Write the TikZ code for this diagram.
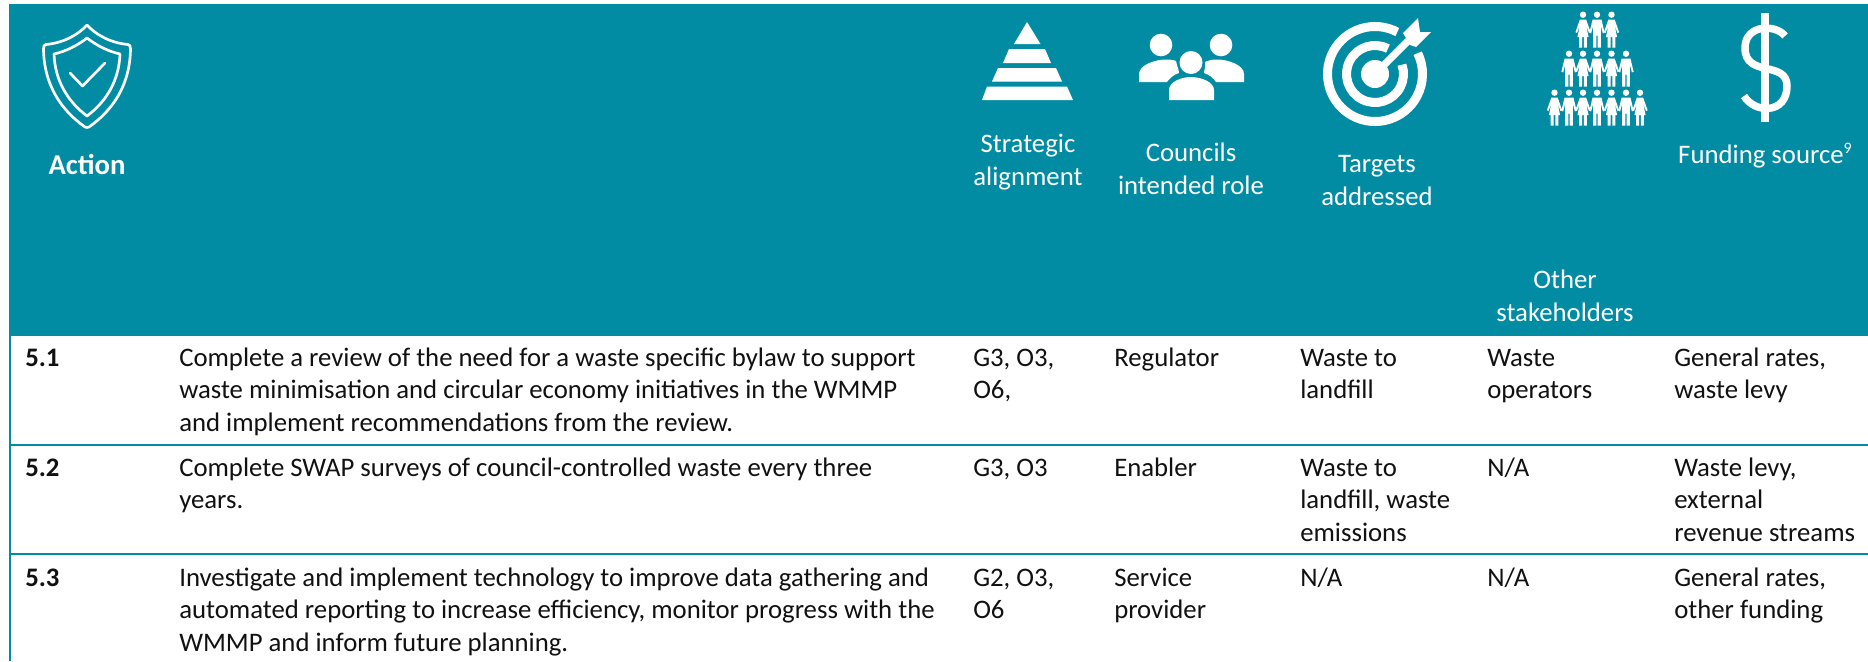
\documentclass[tikz,border=0pt]{standalone}
\usepackage{fontspec}
\setmainfont{Carlito}
\definecolor{teal1}{HTML}{028CA3}
\definecolor{ink}{HTML}{111111}
\newcommand{\bodyfs}{\fontsize{20.06}{24.4}\selectfont}
\newcommand{\headfs}{\fontsize{20.06}{24.8}\selectfont}
\newcommand{\stkl}[1]{\begin{tabular}[t]{@{}l@{}}#1\end{tabular}}
\newcommand{\stkc}[1]{\begin{tabular}[t]{@{}c@{}}#1\end{tabular}}
\tikzset{
 x=0.75pt,y=-0.75pt,
 cell/.style={anchor=base west,inner sep=0pt,text=ink,font=\bodyfs},
 idcell/.style={cell,font=\bodyfs\bfseries},
 headtxt/.style={anchor=base,inner sep=0pt,text=white,font=\headfs},
 rulepen/.style={draw=teal1,line width=1.7pt},
 ico/.style={draw=white,line width=2pt,line join=round,line cap=round},
 ringpen/.style={draw=white,line width=6.75pt},
 person/.pic={
   \fill[white] (0,0) circle (3.2);
   \fill[white] (-4.5,5) -- (4.5,5) -- (7.6,18) -- (5.9,18.8) -- (3.8,11) -- (3.8,33) -- (0.7,33) -- (0.7,21) -- (-0.7,21) -- (-0.7,33) -- (-3.8,33) -- (-3.8,11) -- (-5.9,18.8) -- (-7.6,18) -- cycle;
 },
 woman/.pic={
   \fill[white] (0,0) circle (3.2);
   \fill[white] (-3.2,5) -- (3.2,5) -- (7.6,17.5) -- (6,18.3) -- (3.2,11) -- (5.6,22.5) -- (3.8,22.5) -- (3.8,33) -- (0.9,33) -- (0.9,22.5) -- (-0.9,22.5) -- (-0.9,33) -- (-3.8,33) -- (-3.8,22.5) -- (-5.6,22.5) -- (-3.2,11) -- (-6,18.3) -- (-7.6,17.5) -- cycle;
 }
}
\begin{document}
\begin{tikzpicture}
\useasboundingbox (0,0) rectangle (1868,661);
\fill[white] (0,0) rectangle (1868,661);
\fill[teal1] (9,4) rectangle (1868,336);
\draw[rulepen] (10,336) -- (10,661);
\draw[rulepen] (10,445) -- (1868,445);
\draw[rulepen] (10,554) -- (1868,554);
% shield
\begin{scope}[shift={(87,25)}]
\draw[ico] (0,0) .. controls (-9,10) and (-24,18) .. (-41,19.5) .. controls (-43,20) and (-43.5,21) .. (-43.5,24) .. controls (-43,60) and (-26,85) .. (-2,102) .. controls (-1,102.6) and (1,102.6) .. (2,102) .. controls (26,85) and (43,60) .. (43.5,24) .. controls (43.5,21) and (43,20) .. (41,19.5) .. controls (24,18) and (9,10) .. (0,0) -- cycle;
\draw[ico] (0,13) .. controls (-9,20) and (-20,26) .. (-33,29) .. controls (-32,55) and (-20,76) .. (0,91) .. controls (20,76) and (32,55) .. (33,29) .. controls (20,26) and (9,20) .. (0,13) -- cycle;
\draw[ico] (-17,48) -- (-4.5,61) -- (18,38);
\end{scope}
% pyramid
\fill[white] (1027,22) -- (1040.5,44) -- (1014,44) -- cycle;
\fill[white] (1009,49) -- (1045,49) -- (1051,63) -- (1003,63) -- cycle;
\fill[white] (998,68) -- (1056,68) -- (1062,81.5) -- (992,81.5) -- cycle;
\fill[white] (987,86.5) -- (1067,86.5) -- (1073,100) -- (982,100) -- cycle;
% councils
\fill[white] (1161,45) circle (11.3);
\fill[white] (1221,45) circle (11.3);
\fill[white] (1139,82) -- (1139,74) .. controls (1139,65) and (1155,59.5) .. (1166,59.5) .. controls (1170,59.5) and (1174,60) .. (1176,61) .. controls (1177,66) and (1179,70) .. (1179,73) .. controls (1173,75) and (1170,78) .. (1167,82) -- cycle;
\fill[white] (1244,82) -- (1244,74) .. controls (1244,65) and (1228,59.5) .. (1217,59.5) .. controls (1213,59.5) and (1209,60) .. (1205,62) .. controls (1206,66) and (1204,70) .. (1204,73) .. controls (1210,75) and (1213,78) .. (1216,82) -- cycle;
\fill[white] (1191,62.5) circle (11.5);
\fill[white] (1169,100) -- (1169,90) .. controls (1169,82) and (1181,77) .. (1191,77) .. controls (1201,77) and (1214,82) .. (1214,90) -- (1214,100) -- cycle;
% target
\draw[ringpen] (1375,74) ++(-62:47.5) arc[start angle=-62,end angle=-386,radius=47.5];
\draw[ringpen] (1375,74) ++(-63:28.5) arc[start angle=-63,end angle=-379,radius=28.5];
\fill[white] (1375,74) circle (14);
\draw[white,line width=5.4pt] (1375,74) -- (1410,39);
\fill[white] (1418,18) -- (1420,32) -- (1431,32) -- (1416,47) -- (1410,45) -- (1403,33) -- cycle;
% people
\foreach \px/\kind in {1583/woman,1597/person,1611.5/woman} {\pic at (\px,14.7) {\kind};}
\foreach \px/\kind in {1569/person,1583/woman,1597/person,1611.5/woman,1626/person} {\pic at (\px,53.7) {\kind};}
\foreach \px/\kind in {1554.5/woman,1569/person,1583/woman,1597/person,1611.5/woman,1626/person,1640/woman} {\pic at (\px,92.7) {\kind};}
% dollar
\draw[white,line width=6pt] (1765,13) -- (1765,122);
\draw[white,line width=5.6pt] (1785,36) .. controls (1776,24) and (1745,24) .. (1745,48) .. controls (1745,78) and (1787,60) .. (1787,86) .. controls (1787,114) and (1755,114) .. (1744,96);
% header text
\node[headtxt,font=\fontsize{21.5}{25}\selectfont\bfseries] (action) at (87,174) {Action};
\node[headtxt] (strategic) at (1028,152) {\stkc{Strategic\\alignment}};
\node[headtxt] (councils) at (1191,161) {\stkc{Councils\\intended role}};
\node[headtxt] (targets) at (1377,172) {\stkc{Targets\\addressed}};
\node[headtxt] (other) at (1565,288) {\stkc{Other\\stakeholders}};
\node[headtxt] (funding) at (1765,163) {Funding source\raisebox{7.5pt}{\fontsize{12}{12}\selectfont 9}};
% row 5.1
\node[idcell] (n1) at (25,366) {5.1};
\node[cell] (a1) at (179,366) {\stkl{Complete a review of the need for a waste specific bylaw to support\\waste minimisation and circular economy initiatives in the WMMP\\and implement recommendations from the review.}};
\node[cell] (s1) at (973,366) {\stkl{G3, O3,\\O6,}};
\node[cell] (r1) at (1114,366) {Regulator};
\node[cell] (t1) at (1300,366) {\stkl{Waste to\\landfill}};
\node[cell] (o1) at (1487,366) {\stkl{Waste\\operators}};
\node[cell] (f1) at (1674,366) {\stkl{General rates,\\waste levy}};
% row 5.2
\node[idcell] (n2) at (25,476) {5.2};
\node[cell] (a2) at (179,476) {\stkl{Complete SWAP surveys of council-controlled waste every three\\years.}};
\node[cell] (s2) at (973,476) {G3, O3};
\node[cell] (r2) at (1114,476) {Enabler};
\node[cell] (t2) at (1300,476) {\stkl{Waste to\\landfill, waste\\emissions}};
\node[cell] (o2) at (1487,476) {N/A};
\node[cell] (f2) at (1674,476) {\stkl{Waste levy,\\external\\revenue streams}};
% row 5.3
\node[idcell] (n3) at (25,586) {5.3};
\node[cell] (a3) at (179,586) {\stkl{Investigate and implement technology to improve data gathering and\\automated reporting to increase efficiency, monitor progress with the\\WMMP and inform future planning.}};
\node[cell] (s3) at (973,586) {\stkl{G2, O3,\\O6}};
\node[cell] (r3) at (1114,586) {\stkl{Service\\provider}};
\node[cell] (t3) at (1300,586) {N/A};
\node[cell] (o3) at (1487,586) {N/A};
\node[cell] (f3) at (1674,586) {\stkl{General rates,\\other funding}};
\end{tikzpicture}
\end{document}
